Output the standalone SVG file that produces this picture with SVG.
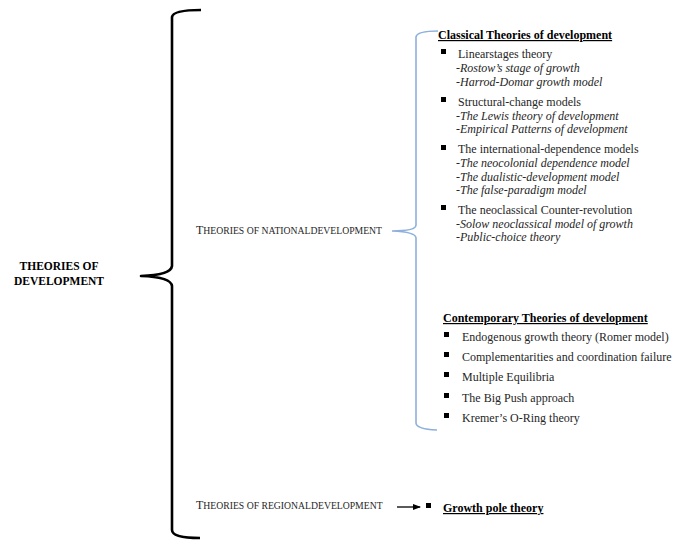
<svg xmlns="http://www.w3.org/2000/svg" width="673" height="541" viewBox="0 0 673 541">
<defs>
<style>
text{font-family:"Liberation Serif","Times New Roman",serif;font-size:12px;fill:#262626}
.b{font-weight:bold;fill:#000}
.u{text-decoration:underline}
.i{font-style:italic}
.sc{font-size:9.7px}
.bul{fill:#000}
.brace{fill:none;stroke:#000;stroke-width:2.6;stroke-linejoin:round}
.bbrace{fill:none;stroke:#8eb0dc;stroke-width:1.6}
</style>
<marker id="ah" markerWidth="8" markerHeight="8" refX="7" refY="4" orient="auto" markerUnits="userSpaceOnUse">
<path d="M0,1 L8,4 L0,7 Z" fill="#000"/>
</marker>
</defs>
<rect width="673" height="541" fill="#fff"/>

<g id="connectors">
<path class="brace" d="M201,10 Q173,10 172,17 L172,266 Q171,275 141,276 Q171,277 172,286 L172,530 Q172,538 200,538"/>
<path class="bbrace" d="M438,31 Q417,31 416,37 L416,225 Q416,231 392,231 Q416,232 416,238 L416,423 Q416,429 437,430"/>
<line x1="397" y1="507" x2="420" y2="507" stroke="#000" stroke-width="1.3" marker-end="url(#ah)"/>
</g>

<g id="root">
<text class="b" x="59" y="270" text-anchor="middle" style="font-size:11.5px">THEORIES OF</text>
<text class="b" x="59" y="285" text-anchor="middle" style="font-size:11.5px">DEVELOPMENT</text>
</g>

<g id="national">
<text x="196" y="234">T<tspan class="sc">HEORIES OF NATIONALDEVELOPMENT</tspan></text>
</g>

<g id="regional">
<text x="196" y="509">T<tspan class="sc">HEORIES OF REGIONALDEVELOPMENT</tspan></text>
</g>

<g id="classical">
<text class="b u" x="438" y="39">Classical Theories of development</text>
<rect class="bul" x="441" y="49" width="5" height="5"/>
<text x="458" y="58">Linearstages theory</text>
<text class="i" x="456" y="72">-Rostow’s stage of growth</text>
<text class="i" x="456" y="86">-Harrod-Domar growth model</text>
<rect class="bul" x="441" y="97" width="5" height="5"/>
<text x="458" y="106">Structural-change models</text>
<text class="i" x="456" y="120">-The Lewis theory of development</text>
<text class="i" x="456" y="133">-Empirical Patterns of development</text>
<rect class="bul" x="441" y="145" width="5" height="5"/>
<text x="458" y="153">The international-dependence models</text>
<text class="i" x="456" y="167">-The neocolonial dependence model</text>
<text class="i" x="456" y="181">-The dualistic-development model</text>
<text class="i" x="456" y="194">-The false-paradigm model</text>
<rect class="bul" x="441" y="205" width="5" height="5"/>
<text x="458" y="214">The neoclassical Counter-revolution</text>
<text class="i" x="456" y="228">-Solow neoclassical model of growth</text>
<text class="i" x="456" y="241">-Public-choice theory</text>
</g>

<g id="contemporary">
<text class="b u" x="443" y="322">Contemporary Theories of development</text>
<rect class="bul" x="444" y="332" width="5" height="5"/>
<text x="462" y="341">Endogenous growth theory (Romer model)</text>
<rect class="bul" x="444" y="352" width="5" height="5"/>
<text x="462" y="361">Complementarities and coordination failure</text>
<rect class="bul" x="444" y="372" width="5" height="5"/>
<text x="462" y="381">Multiple Equilibria</text>
<rect class="bul" x="444" y="393" width="5" height="5"/>
<text x="462" y="402">The Big Push approach</text>
<rect class="bul" x="444" y="413" width="5" height="5"/>
<text x="462" y="422">Kremer’s O-Ring theory</text>
</g>

<g id="growthpole">
<rect class="bul" x="426" y="503" width="5" height="5"/>
<text class="b u" x="443" y="512">Growth pole theory</text>
</g>
</svg>
